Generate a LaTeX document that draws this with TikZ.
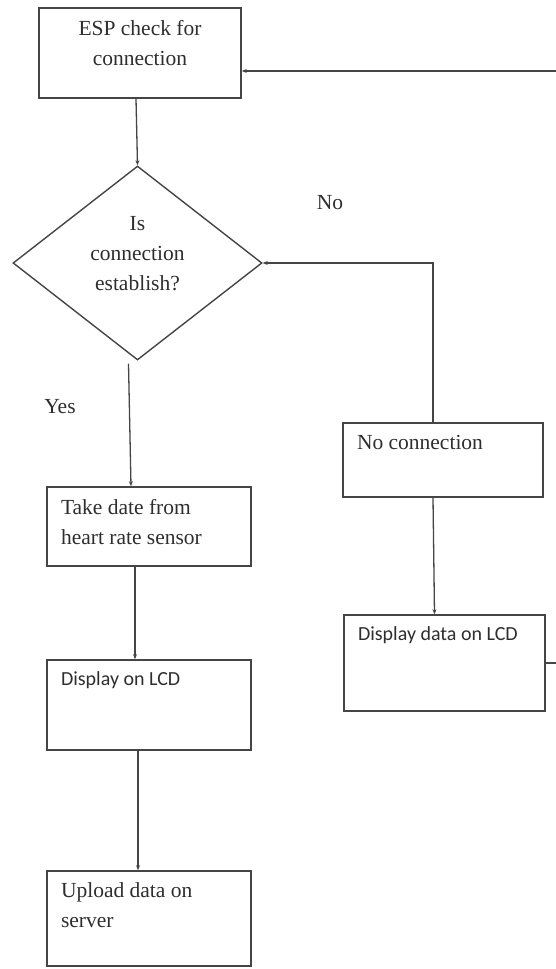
\documentclass[tikz,border=0pt]{standalone}
\usepackage{fontspec}
\setmainfont{Liberation Serif}
\newfontfamily\timesfont{Liberation Serif}
\newfontfamily\calfont{Carlito}
\usepackage{xcolor}
\usepackage{tikz}
\usetikzlibrary{arrows.meta,positioning,shapes.geometric,calc}

\definecolor{linegray}{HTML}{454545}
\definecolor{textgray}{HTML}{2E2E2E}
\newcommand{\boxtext}[3]{\parbox[c][#2][t]{#1}{#3}}

\begin{document}
\begin{tikzpicture}[
  x=1pt,y=-1pt,
  every node/.style={font=\timesfont\fontsize{21.5}{30}\selectfont, text=textgray},
  procbox/.style={draw=linegray, line width=1.6pt, rectangle, inner xsep=14pt, inner ysep=12pt},
  decbox/.style={draw=linegray, line width=1.4pt, diamond, inner sep=0pt, minimum width=249pt, minimum height=194pt},
  arr/.style={draw=linegray, line width=1.3pt, -{Stealth[length=5pt,width=4pt]}},
  tag/.style={inner sep=0pt}
]
\useasboundingbox (0,0) rectangle (555,969);

\node[procbox] (esp) at (140,53) {\boxtext{174pt}{66pt}{\centering ESP check for\\connection}};
\node[decbox] (dec) at (137.5,263) {\raisebox{9pt}[\height][\depth]{\parbox{110pt}{\centering Is\\connection\\establish?}}};
\node[procbox] (take) at (149,526.5) {\boxtext{176pt}{55pt}{Take date from\\heart rate sensor}};
\node[procbox] (lcd) at (149,705) {\boxtext{176pt}{66pt}{\calfont\fontsize{20}{30}\selectfont Display on LCD}};
\node[procbox] (upload) at (149,918.5) {\boxtext{176pt}{71pt}{Upload data on\\server}};
\node[procbox] (nocon) at (443,460) {\boxtext{172pt}{50pt}{No connection}};
\node[procbox] (lcdb) at (444.5,663) {\boxtext{173pt}{72pt}{\calfont\fontsize{20}{30}\selectfont Display data on LCD}};

\node[tag] (no) at (330,203) {No};
\node[tag] (yes) at (60,407) {Yes};

\draw[arr] ([xshift=-4pt]esp.south) -- (dec.north);
\draw[arr] ([xshift=-10pt]nocon.north) |- (dec.east);
\draw[arr] ([xshift=-9pt,yshift=-3pt]dec.south) -- ([xshift=-18pt]take.north);
\draw[arr] ([xshift=-14pt]take.south) -- ([xshift=-14pt]lcd.north);
\draw[arr] ([xshift=-11pt]lcd.south) -- ([xshift=-11pt]upload.north);
\draw[arr] ([xshift=-10pt]nocon.south) -- ([xshift=-10pt]lcdb.north);
\draw[arr] (lcdb.east) -- ++(25,0) |- ([yshift=-18pt]esp.east);
\end{tikzpicture}
\end{document}
